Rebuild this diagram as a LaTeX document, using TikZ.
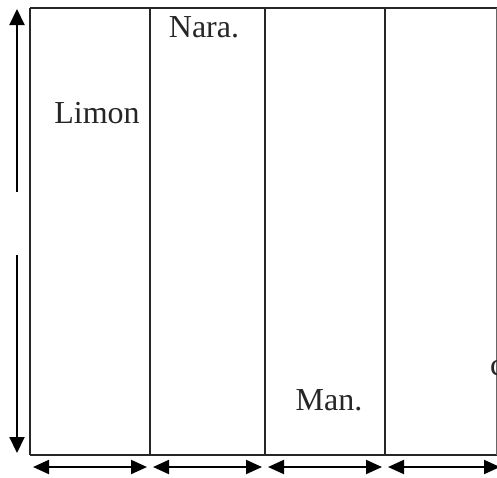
\documentclass[tikz,border=0pt]{standalone}
\usepackage{fontspec}
\setmainfont{Liberation Serif}
\usepackage{tikz}
\usetikzlibrary{arrows.meta}

\begin{document}
\begin{tikzpicture}[x=0.5pt,y=-0.5pt,line width=1pt,
  dim/.style={-{Triangle[length=8pt,width=7.5pt]}},
  dimboth/.style={{Triangle[length=8pt,width=7pt]}-{Triangle[length=8pt,width=7pt]},shorten <=1.5pt,shorten >=1.5pt},
  lbl/.style={font=\fontsize{16}{19}\selectfont,text=black!85}]
  \useasboundingbox (0,0) rectangle (497,477);
  \clip (0,0) rectangle (497,477);

  % frame and columns
  \coordinate (c0) at (30,8);
  \coordinate (c1) at (150,8);
  \coordinate (c2) at (265,8);
  \coordinate (c3) at (385,8);
  \draw[black!85] (c0) -- (510,8);
  \draw[black!85] (30,455) -- (510,455);
  \foreach \c in {c0,c1,c2,c3}
    \draw[black!85] (\c) -- ++(0,447);
  \draw[line width=0.4pt, black!60] (496,8) -- (496,455);

  \node[lbl] (limon) at (97,113) {Limon};
  \node[lbl] (nara) at (204,27) {Nara.};
  \node[lbl] (man) at (329,400) {Man.};
  \node[lbl, anchor=west, inner sep=0pt] (cut) at (489,368) {c};

  % height arrow
  \coordinate (top) at (17,9);
  \coordinate (gapa) at (17,192);
  \coordinate (gapb) at (17,255);
  \coordinate (bot) at (17,453);
  \draw[dim] (gapa) -- (top);
  \draw[dim] (gapb) -- (bot);

  % width arrows
  \coordinate (b0) at (30,467);
  \coordinate (b1) at (150,467);
  \coordinate (b2) at (265,467);
  \coordinate (b3) at (385,467);
  \coordinate (b4) at (503,467);
  \draw[dimboth] (b0) -- (b1);
  \draw[dimboth] (b1) -- (b2);
  \draw[dimboth] (b2) -- (b3);
  \draw[dimboth] (b3) -- (b4);
\end{tikzpicture}
\end{document}
